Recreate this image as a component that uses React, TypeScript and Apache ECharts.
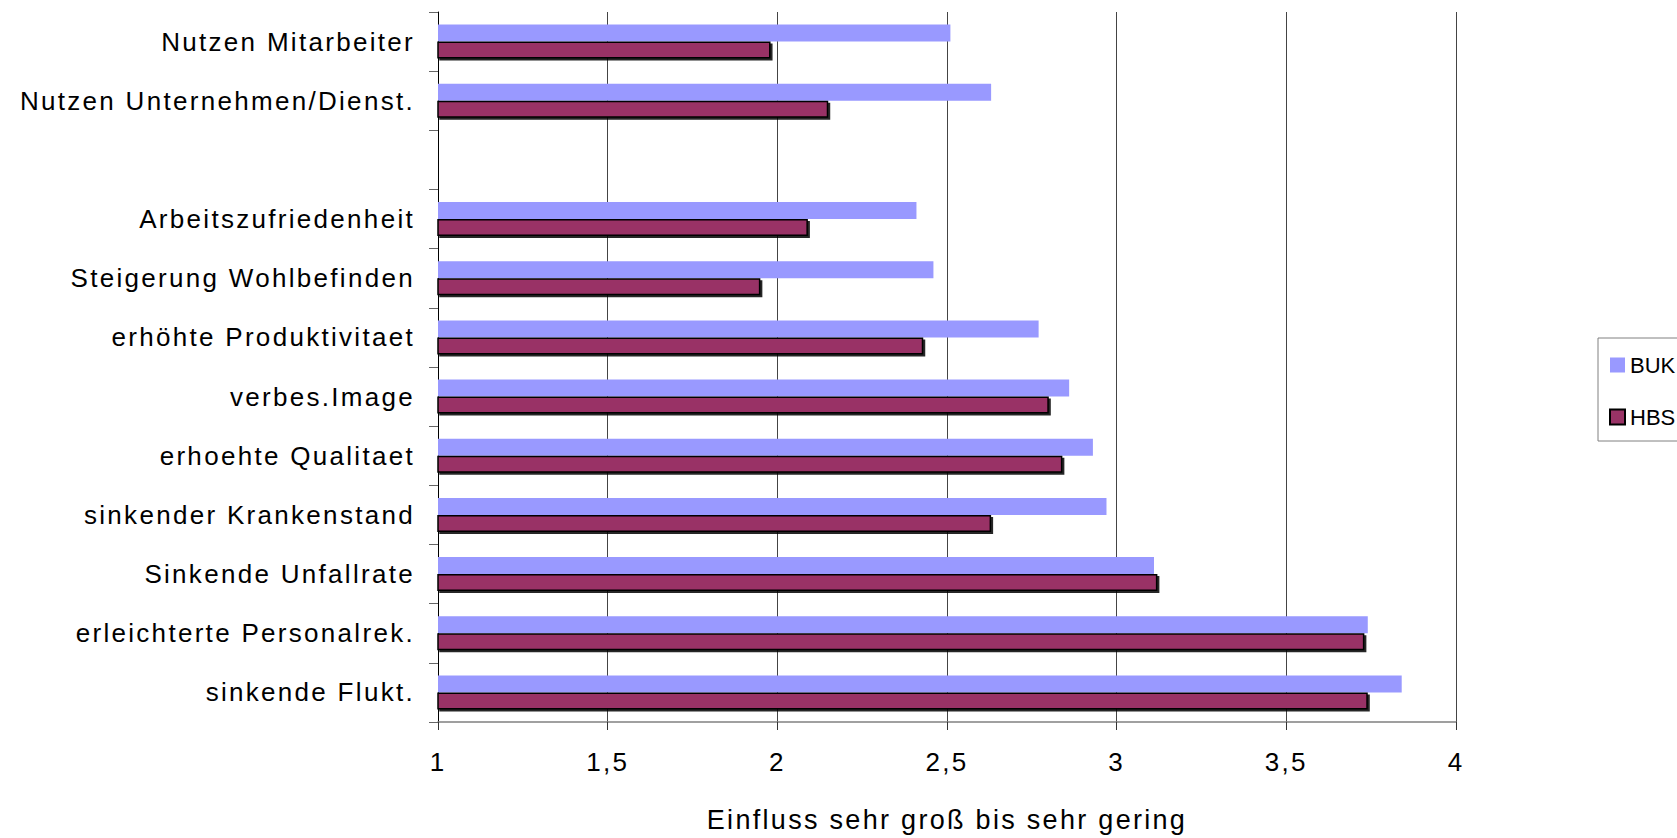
import React, { useEffect, useRef } from "react";
import * as echarts from "echarts";

const categories: string[] = [
  "Nutzen Mitarbeiter",
  "Nutzen Unternehmen/Dienst.",
  "",
  "Arbeitszufriedenheit",
  "Steigerung Wohlbefinden",
  "erhöhte Produktivitaet",
  "verbes.Image",
  "erhoehte Qualitaet",
  "sinkender Krankenstand",
  "Sinkende Unfallrate",
  "erleichterte Personalrek.",
  "sinkende Flukt.",
];

const bukValues: (number | null)[] = [2.51, 2.63, null, 2.41, 2.46, 2.77, 2.86, 2.93, 2.97, 3.11, 3.74, 3.84];
const hbsValues: (number | null)[] = [1.98, 2.15, null, 2.09, 1.95, 2.43, 2.8, 2.84, 2.63, 3.12, 3.73, 3.74];

const xTickLabels: string[] = ["1", "1,5", "2", "2,5", "3", "3,5", "4"];
const xAxisTitle = "Einfluss sehr groß bis sehr gering";
const seriesNames = ["BUK", "HBS"];

const FONT = "'Liberation Sans', Arial, sans-serif";

export default function App() {
  const ref = useRef<HTMLDivElement>(null);

  useEffect(() => {
    if (!ref.current) return;
    const chart = echarts.init(ref.current, undefined, { renderer: "svg" });
    chart.setOption({
      animation: false,
      backgroundColor: "#ffffff",
      textStyle: { fontFamily: FONT, color: "#000" },
      grid: { left: 438, right: 221, top: 12, bottom: 116, containLabel: false },
      legend: {
        data: seriesNames,
        orient: "vertical",
        left: 1598,
        top: 338,
        itemWidth: 15,
        itemHeight: 15,
        itemGap: 30,
        padding: [16, 40, 13, 11],
        borderColor: "#808080",
        borderWidth: 1,
        icon: "rect",
        selectedMode: false,
        textStyle: { fontFamily: FONT, fontSize: 22, lineHeight: 22, color: "#000" },
      },
      xAxis: {
        type: "value",
        min: 1,
        max: 4,
        interval: 0.5,
        name: xAxisTitle,
        nameLocation: "middle",
        nameGap: 84,
        nameTextStyle: { fontFamily: FONT, fontSize: 27, color: "#000" },
        axisLine: { show: true, lineStyle: { color: "#808080", width: 1.5 } },
        axisTick: { show: true, length: 8, lineStyle: { color: "#333" } },
        axisLabel: {
          margin: 27,
          fontFamily: FONT,
          fontSize: 26,
          color: "#000",
          formatter: (_v: number, i: number) => xTickLabels[i],
        },
        splitLine: { show: true, lineStyle: { color: "#444", width: 1 } },
      },
      yAxis: {
        type: "category",
        inverse: true,
        data: categories,
        axisLine: { show: true, lineStyle: { color: "#000", width: 1 } },
        axisTick: { show: true, length: 9, lineStyle: { color: "#666" } },
        axisLabel: { margin: 23, fontFamily: FONT, fontSize: 26, color: "#000", interval: 0 },
        splitLine: { show: false },
      },
      series: [
        {
          name: "BUK",
          type: "bar",
          data: bukValues,
          barWidth: 17,
          barGap: "0%",
          itemStyle: { color: "#9999FF" },
          emphasis: { disabled: true },
        },
        {
          name: "HBS",
          type: "bar",
          data: hbsValues,
          barWidth: 17,
          barGap: "0%",
          itemStyle: {
            color: "#993366",
            borderColor: "#000",
            borderWidth: 1.5,
            shadowColor: "rgba(0,0,0,0.85)",
            shadowOffsetX: 2,
            shadowOffsetY: 2,
            shadowBlur: 0,
          },
          emphasis: { disabled: true },
        },
      ],
    });
    return () => chart.dispose();
  }, []);

  return (
    <>
      <style>{`.chartbox text { letter-spacing: 2.3px; } .chartbox text[style*="22px"] { letter-spacing: 0px; }`}</style>
      <div
        ref={ref}
        className="chartbox"
        style={{ position: "fixed", left: 0, top: 0, width: 1677, height: 838, background: "#fff" }}
      />
    </>
  );
}
